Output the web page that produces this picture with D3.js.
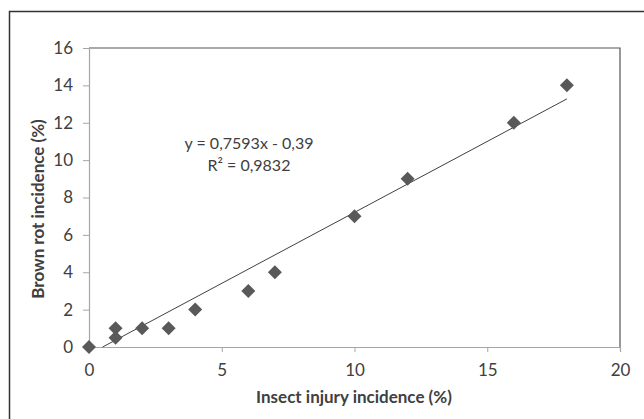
<!DOCTYPE html>
<html>
<head>
<meta charset="utf-8">
<script src="https://cdn.jsdelivr.net/npm/d3@7"></script>
<style>
  body { margin: 0; background: #fff; }
  text { font-family: Lato, "Open Sans", sans-serif; fill: #404040; }
</style>
</head>
<body>
<svg id="chart" width="644" height="419"></svg>
<script>
// data
const insectInjury = [0, 1, 1, 2, 3, 4, 6, 7, 10, 12, 16, 18];
const brownRot     = [0, 0.5, 1, 1, 1, 2, 3, 4, 7, 9, 12, 14];
const xTicks = [0, 5, 10, 15, 20];
const yTicks = [0, 2, 4, 6, 8, 10, 12, 14, 16];
const slope = 0.7593;
const intercept = -0.39;
const equationLines = ["y = 0,7593x - 0,39", "R² = 0,9832"];

const svg = d3.select('#chart');

// outer chart border
svg.append('rect')
  .attr('x', 9.5).attr('y', 11.5)
  .attr('width', 700).attr('height', 500)
  .attr('fill', 'none')
  .attr('stroke', '#333')
  .attr('stroke-width', 1.5);

// plot area edges
const plotL = 89, plotR = 620, plotT = 48, plotB = 347;

const x = d3.scaleLinear().domain([0, 20]).range([plotL, plotR]);
const y = d3.scaleLinear().domain([0, 16]).range([plotB, plotT]);

// frame: top and right darker
svg.append('path')
  .attr('d', `M${plotL},${plotT}H${plotR}V${plotB}`)
  .attr('fill', 'none')
  .attr('stroke', '#555')
  .attr('stroke-width', 1.2);

// y axis
const yAxis = svg.append('g')
  .attr('transform', `translate(${plotL},0)`)
  .call(d3.axisLeft(y).tickValues(yTicks).tickSize(6).tickPadding(10));
// x axis
const xAxis = svg.append('g')
  .attr('transform', `translate(0,${plotB})`)
  .call(d3.axisBottom(x).tickValues(xTicks).tickSize(5).tickPadding(12));

[yAxis, xAxis].forEach(g => {
  g.select('.domain').attr('stroke', '#a6a6a6').attr('stroke-width', 1.2);
  g.selectAll('.tick line').attr('stroke', '#a6a6a6');
  g.selectAll('.tick text')
    .style('font-family', 'Lato, "Open Sans", sans-serif')
    .style('font-size', '17px')
    .attr('fill', '#404040');
});

// trend line, from the x-intercept up to the last point
const x0 = -intercept / slope;
const x1 = d3.max(insectInjury);
svg.append('line')
  .attr('x1', x(x0)).attr('y1', y(slope * x0 + intercept))
  .attr('x2', x(x1)).attr('y2', y(slope * x1 + intercept))
  .attr('stroke', '#404040')
  .attr('stroke-width', 1);

// diamond markers
const diamond = d3.symbol().type(d3.symbolSquare).size(98);
svg.selectAll('path.pt')
  .data(insectInjury.map((d, i) => [d, brownRot[i]]))
  .join('path')
  .attr('class', 'pt')
  .attr('d', diamond)
  .attr('transform', d => `translate(${x(d[0])},${y(d[1])}) rotate(45)`)
  .attr('fill', '#595959');

// regression equation
svg.selectAll('text.eq')
  .data(equationLines)
  .join('text')
  .attr('class', 'eq')
  .attr('x', 249)
  .attr('y', (d, i) => 149 + i * 22)
  .attr('text-anchor', 'middle')
  .style('font-size', '16px')
  .text(d => d);

// axis titles
svg.append('text')
  .attr('x', 354).attr('y', 403)
  .attr('text-anchor', 'middle')
  .style('font-size', '17px')
  .style('font-weight', 'bold')
  .text('Insect injury incidence (%)');

svg.append('text')
  .attr('transform', 'translate(44,209) rotate(-90)')
  .attr('text-anchor', 'middle')
  .style('font-size', '17px')
  .style('font-weight', 'bold')
  .text('Brown rot incidence (%)');
</script>
</body>
</html>
